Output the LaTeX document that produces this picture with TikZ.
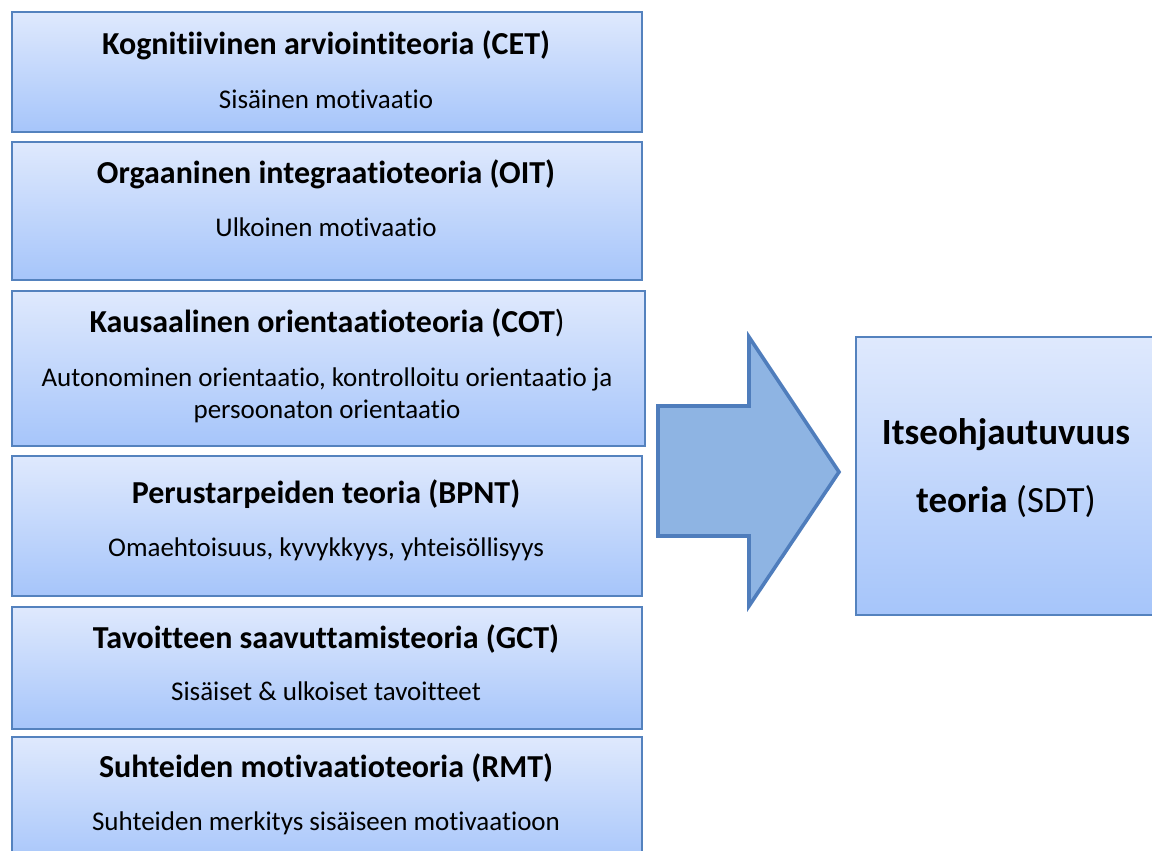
\documentclass[tikz,border=0pt]{standalone}
\usepackage{fontspec}
\setmainfont[Ligatures=NoCommon]{Carlito}
\definecolor{boxtop}{RGB}{223,233,253}
\definecolor{boxbot}{RGB}{166,197,250}
\definecolor{boxline}{RGB}{84,130,190}
\definecolor{arrowfill}{RGB}{142,180,227}
\definecolor{arrowline}{RGB}{79,125,188}
\tikzset{
  theorybox/.style={draw=boxline, line width=1.6pt, top color=boxtop, bottom color=boxbot,
    rectangle, inner sep=0pt, anchor=north west},
  titletext/.style={anchor=base, font=\fontsize{32}{38}\selectfont\bfseries, text=black},
  subtext/.style={anchor=base, font=\fontsize{27}{32}\selectfont, text=black},
  bigtext/.style={anchor=base, font=\fontsize{37}{44}\selectfont, text=black},
}
\begin{document}
\begin{tikzpicture}[x=1pt,y=-1pt]
\useasboundingbox (0,0) rectangle (1152,851);

% stacked theory boxes
\node[theorybox, minimum width=630pt, minimum height=120pt] (cet) at (11,11) {};
\node[theorybox, minimum width=630pt, minimum height=138pt] (oit) at (11,141) {};
\node[theorybox, minimum width=633pt, minimum height=155pt] (cot) at (11,290) {};
\node[theorybox, minimum width=630pt, minimum height=140pt] (bpnt) at (11,455) {};
\node[theorybox, minimum width=630pt, minimum height=122pt] (gct) at (11,606) {};
\node[theorybox, minimum width=630pt, minimum height=130pt] (rmt) at (11,736) {};

% box texts
\node[titletext] (cett) at (326,55) {Kognitiivinen arviointiteoria (CET)};
\node[subtext] (cets) at (326,108) {Sisäinen motivaatio};
\node[titletext] (oitt) at (326,183) {Orgaaninen integraatioteoria (OIT)};
\node[subtext] (oits) at (326,236) {Ulkoinen motivaatio};
\node[titletext] (cott) at (327,332) {Kausaalinen orientaatioteoria (COT\textmd{)}};
\node[subtext] (cots1) at (327,386) {Autonominen orientaatio, kontrolloitu orientaatio ja};
\node[subtext] (cots2) at (327,418) {persoonaton orientaatio};
\node[titletext] (bpntt) at (326,503) {Perustarpeiden teoria (BPNT)};
\node[subtext] (bpnts) at (326,556) {Omaehtoisuus, kyvykkyys, yhteisöllisyys};
\node[titletext] (gctt) at (326,648) {Tavoitteen saavuttamisteoria (GCT)};
\node[subtext] (gcts) at (326,700) {Sisäiset \& ulkoiset tavoitteet};
\node[titletext] (rmtt) at (326,777) {Suhteiden motivaatioteoria (RMT)};
\node[subtext] (rmts) at (326,830) {Suhteiden merkitys sisäiseen motivaatioon};

% block arrow
\draw[arrowline, fill=arrowfill, line width=3.6pt, line join=miter]
  (658,406) -- (749,406) -- (749,337) -- (839,472) -- (749,606) -- (749,536) -- (658,536) -- cycle;

% target box
\node[theorybox, minimum width=302pt, minimum height=278pt] (sdt) at (855,336) {};
\node[bigtext] (sdt1) at (1006,444) {\textbf{Itseohjautuvuus}};
\node[bigtext] (sdt2) at (1006,512) {\textbf{teoria} (SDT)};
\end{tikzpicture}
\end{document}
